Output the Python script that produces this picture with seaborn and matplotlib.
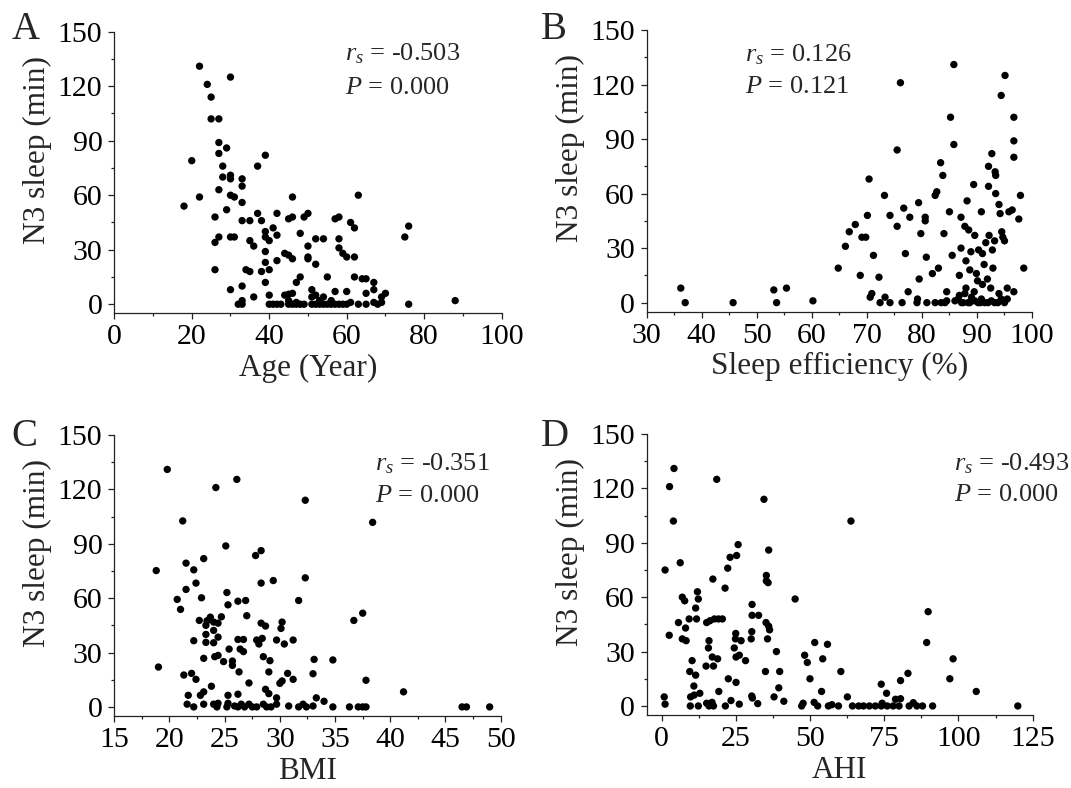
import matplotlib
matplotlib.use("Agg")
import matplotlib.pyplot as plt
import seaborn as sns
import numpy as np
import pandas as pd
from matplotlib.ticker import MultipleLocator

# --- Data ---
age = [22, 30, 24, 25, 25, 27, 27, 29, 27, 20, 39, 37, 28, 28, 30, 30, 33, 33, 27, 30,
       31, 33, 22, 18, 46, 63, 29, 26, 37, 42, 33, 35, 38, 45, 46, 49, 50, 57, 58, 61,
       62, 76, 75, 41, 39, 42, 48, 30, 31, 27, 26, 39, 40, 35, 36, 52, 54, 58, 39, 50,
       58, 59, 60, 62, 44, 45, 46, 50, 50, 39, 42, 52, 26, 34, 35, 38, 40, 55, 48, 47,
       62, 64, 65, 67, 67, 30, 33, 39, 36, 40, 51, 57, 60, 65, 70, 69, 88, 76,
       32, 33, 33, 40, 41, 42, 43, 44, 45, 46, 47, 48, 49, 51, 52, 53, 54, 55, 56, 57,
       58, 59, 60, 61, 63, 65, 67, 68, 69, 45, 46, 45, 47, 51, 52, 54, 53, 56]
age_n3 = [131, 125, 121, 114, 102, 102, 89, 86, 83, 79, 82, 76, 76, 70, 71, 69, 69, 65, 63, 60,
          59, 56, 59, 54, 59, 60, 52, 48, 50, 50, 46, 46, 46, 47, 48, 48, 50, 47, 48, 45,
          42, 43, 37, 42, 40, 38, 39, 37, 37, 37, 34, 37, 35, 35, 32, 36, 36, 36, 29, 32,
          31, 28, 26, 26, 28, 27, 25, 26, 25, 23, 24, 22, 19, 19, 18, 18, 19, 15, 15, 12,
          15, 14, 14, 12, 8, 8, 10, 12, 4, 5, 8, 7, 7, 6, 6, 4, 2, 0,
          0, 0, 2, 0, 0, 0, 0, 5, 0, 0, 0, 0, 0, 0, 0, 0, 0, 0, 0, 0,
          0, 0, 0, 1, 0, 0, 1, 0, 1, 5.5, 6, 2, 1, 4, 5, 4, 2, 2]

eff = [36.2, 37, 45.7, 53.1, 53.6, 55.4, 60.2, 64.8, 66.1, 66.8, 67.9, 68.8, 69.1, 69.8, 70.1,
       70.4, 71.2, 70.9, 70.6, 72.2, 72.4, 73.2, 73.3, 74.2, 74.2, 75.5, 75.5, 76.1, 76.4, 76.7,
       77, 77.5, 77.8, 79.1, 79.2, 79.4, 79.5, 79.8, 80.6, 80.6, 80.8, 80.9, 81.9, 82.4, 82.4,
       82.7, 83, 83.4, 83.8, 84, 84.2, 84.5, 85, 85.2, 85.5, 85.8, 85.8, 86.8, 86.8, 87.1,
       87.1, 87.5, 87.8, 88, 88.2, 88.5, 88.7, 88.7, 88.9, 89.4, 89.6, 89.9, 90.1, 90.3, 90.6,
       90.8, 91, 91.3, 91.6, 91.9, 92.1, 92.1, 92.2, 92.7, 92.8, 92.9, 93.2, 93.3, 93.4, 93.4,
       94, 94.2, 94.4, 94.5, 94.7, 95, 95.1, 95.5, 95.8, 96.4, 96.7, 96.7, 96.7, 96.7, 97.6,
       97.9, 98.5, 95.5,
       86.6, 87.2, 87.8, 88.4, 89, 89.6, 90.2, 90.8, 91.4, 92, 92.6, 93.2, 93.8, 94.4, 95,
       88, 89.5, 91, 92.5, 94, 83.5, 84.5, 86]
eff_n3 = [8, 0, 0, 7, 0, 8, 1, 19, 31, 39, 43, 15, 36, 36, 48,
          68, 26, 5, 3, 14, 0, 59, 3, 0, 48, 84, 42, 121, 0, 52,
          27, 6, 47, 0, 2, 55, 13, 38, 47, 45, 25, 0, 16, 0, 59,
          61, 19, 77, 70, 38, 0, 6, 50, 102, 26, 131, 87, 15, 4, 30,
          47, 0, 42, 23, 56, 40, 0, 18, 28, 65, 37, 16, 12, 29, 0,
          50, 27, 21, 33, 13, 64, 75, 37, 82, 29, 19, 34, 72, 70, 60,
          54, 49, 114, 39, 36, 34, 125, 8, 50, 51, 102, 89, 80, 6, 46,
          59, 19, 2,
          2, 0, 5, 0, 3, 1, 0, 2, 0, 0, 1, 0, 0, 2, 0,
          8, 6, 10, 8, 5, 0, 1, 1]

bmi = [19.8, 26.1, 24.2, 32.3, 21.2, 38.4, 25.1, 27.8, 28.3, 18.8, 21.5, 23.1, 22.2, 22.4, 28.3,
       29.4, 32.3, 21.5, 20.7, 21.0, 22.9, 25.2, 25.3, 26.2, 26.9, 31.7, 27.0, 22.7, 23.4, 23.7,
       23.3, 24.0, 24.4, 24.7, 28.3, 28.7, 30.2, 30.1, 36.7, 37.5, 23.3, 24.0, 24.4, 22.2, 23.3,
       24.0, 26.2, 26.7, 27.9, 28.1, 28.4, 29.7, 30.4, 31.2, 25.4, 26.4, 26.7, 23.1, 24.1, 24.4,
       24.9, 25.7, 25.7, 28.5, 29.1, 33.1, 34.8, 19.0, 21.3, 22.0, 22.4, 26.3, 27.2, 29.0, 30.0,
       30.2, 30.7, 31.2, 33.0, 37.8, 41.2, 23.8, 22.8, 23.1, 21.7, 25.3, 26.2, 28.7, 29.0, 29.7,
       33.3, 34.0,
       21.6, 22.2, 23.1, 24.0, 24.3, 24.4, 25.2, 25.3, 25.9, 26.2, 26.5, 26.8, 27.2, 27.5, 27.9,
       28.5, 28.8, 29.2, 29.7, 30.8, 31.7, 32.1, 32.4, 33.0, 34.8, 36.3, 37.1, 37.5, 37.8, 46.5,
       46.9, 49.0]
bmi_n3 = [131, 125.5, 121, 114, 102.6, 101.8, 88.8, 83.5, 86.2, 75.2, 79.3, 81.8, 75.6, 68.3, 68.3,
          69.7, 71.2, 64.8, 59.3, 53.8, 60.2, 63.1, 56.3, 58.3, 58.7, 58.7, 50.3, 47.7, 47.5, 49.5,
          45, 46.8, 46.2, 49.7, 46.2, 44.6, 46.8, 43.3, 47.7, 51.7, 40, 42.2, 38.5, 36.5, 35.6,
          35.4, 37.2, 37.2, 36.9, 34.7, 37.8, 36.9, 34.7, 36.9, 31.9, 31.9, 30.5, 26.8, 27.7, 28.4,
          25, 25.3, 22.9, 27.7, 25.5, 26.2, 25.9, 22, 17.6, 18.5, 15.2, 19.3, 13.2, 19.3, 13,
          14.3, 18.5, 15.2, 18.3, 14.7, 8.3, 11.4, 6.4, 8.3, 6.4, 6.4, 7, 9.7, 7.3, 5,
          5, 3.1,
          1.5, 0, 1.5, 1.5, 0, 2, 0, 2, 0.5, 0, 1.5, 0, 1.5, 0, 0,
          1.5, 0, 0, 1.5, 0.5, 0, 1.5, 0, 0.5, 0, 0, 0, 0, 0, 0,
          0, 0]

ahi = [4.2, 2.7, 4, 18.6, 34.5, 63.8, 1.2, 6.3, 36.1, 25.8, 25.3, 23.1, 22.3, 17.3, 21.4,
       35.3, 35.9, 35.3, 7, 7.8, 12.1, 12.4, 11.5, 45, 30.5, 5.7, 8.1, 9.3, 11.8, 15.2,
       16.3, 17.8, 19.2, 20.5, 30.5, 32.7, 35.2, 36.1, 36.4, 89.8, 2.6, 7, 8.3, 16, 18.9,
       25, 24.9, 26.8, 28.3, 30.2, 24.5, 25.1, 26.2, 30.4, 35.7, 38.7, 89.3, 15.8, 17.1, 17.5,
       15, 10.3, 9.5, 11.5, 35, 39.8, 22.5, 25.1, 39.5, 48.2, 49.1, 51.6, 55.9, 54.3, 50,
       53.9, 60.4, 74, 75.8, 80.5, 83, 97.1, 98.2, 106, 120, 0.9, 1.2, 9.8, 9.7, 12.4,
       10.9, 11, 12.9, 15.2, 16, 17, 17.5, 19.3, 21.5, 23.4, 26.2, 30.4, 30.6, 32.4, 37.9,
       41.2, 47.2, 47.7, 51.4, 52.6, 56.2, 57.4, 59.6, 62.6, 64.3, 66.4, 68, 70, 72, 74,
       76, 78, 80, 74.3, 78.8, 80.5, 83.4, 84.8, 86, 87.9, 91.3]
ahi_n3 = [131, 121, 102, 125, 114, 102, 75, 79, 86, 89, 83, 82, 76, 70, 65,
          72, 68, 69, 60, 58, 63, 59, 54, 59, 56, 46, 43, 48, 48, 46,
          47, 48, 48, 48, 50, 50, 46, 44, 42, 52, 39, 37, 36, 36, 26,
          40, 37, 36, 25, 37, 32, 27, 28, 41, 37, 30, 35, 32, 27, 22,
          22, 25, 19, 17, 19, 19, 15, 13, 10, 28, 24, 35, 34, 26, 15,
          8, 19, 12, 7, 14, 18, 15, 26, 8, 0, 5, 1, 5, 0, 0,
          11, 6, 7, 1.5, 0, 2, 0, 8, 0, 3, 1, 5.5, 4.4, 1.3, 5,
          2.6, 0, 1.5, 2, 0, 0, 0.7, 0, 5, 0, 0, 0, 0, 0, 0,
          0, 0, 0, 1.5, 3.7, 4, 0, 1.8, 0, 0, 0]

panels = [
    ("A", age, age_n3, "Age (Year)", (0, 100), 20, 10, "-0.503", "0.000"),
    ("B", eff, eff_n3, "Sleep efficiency (%)", (30, 100), 10, 5, "0.126", "0.121"),
    ("C", bmi, bmi_n3, "BMI", (15, 50), 5, 2.5, "-0.351", "0.000"),
    ("D", ahi, ahi_n3, "AHI", (-5, 125), 25, 12.5, "-0.493", "0.000"),
]

# axes boxes in figure fraction (left, bottom, width, height)
boxes = [
    [0.1067, 0.6024, 0.3617, 0.3574],
    [0.6038, 0.6044, 0.3598, 0.3575],
    [0.1067, 0.0914, 0.3608, 0.3566],
    [0.6038, 0.0926, 0.3604, 0.3566],
]
# annotation: x, baseline of line 1, baseline of line 2 (axes fraction)
annot_pos = [(0.596, 0.897, 0.779), (0.255, 0.887, 0.775),
             (0.674, 0.875, 0.763), (0.797, 0.872, 0.763)]
letter_xy = [(0.011, 0.9505), (0.505, 0.9505), (0.011, 0.434), (0.505, 0.434)]

# --- Style ---
sns.set_style("ticks")
plt.rcParams.update({
    "font.family": ["Liberation Serif", "DejaVu Serif"],
    "mathtext.fontset": "custom",
    "mathtext.rm": "Liberation Serif",
    "mathtext.it": "Liberation Serif:italic",
    "axes.edgecolor": "#222222",
    "axes.linewidth": 0.9,
    "xtick.color": "#222222",
    "ytick.color": "#222222",
    "xtick.labelcolor": "black",
    "ytick.labelcolor": "black",
})

fig = plt.figure(figsize=(10.71, 7.88), dpi=100)

for i, (letter, xs, ys, xlabel, xlim, xmaj, xmin, rs, p) in enumerate(panels):
    ax = fig.add_axes(boxes[i])
    df = pd.DataFrame({"x": xs, "y": ys})
    sns.scatterplot(data=df, x="x", y="y", ax=ax, color="black", s=28,
                    linewidth=0, edgecolor="none", clip_on=False)
    ax.set_xlim(*xlim)
    ax.set_ylim(-5, 150)
    ax.xaxis.set_major_locator(MultipleLocator(xmaj))
    ax.xaxis.set_minor_locator(MultipleLocator(xmin))
    ax.yaxis.set_major_locator(MultipleLocator(30))
    ax.yaxis.set_minor_locator(MultipleLocator(15))
    if letter == "D":
        ax.set_xticks([0, 25, 50, 75, 100, 125])
    ax.tick_params(which="major", direction="out", length=4.5, width=0.9,
                   labelsize=21.5, pad=4)
    ax.tick_params(which="minor", direction="out", length=2.5, width=0.9)
    ax.tick_params(axis="x", which="major", pad=3.5)
    sns.despine(ax=ax)
    ax.set_xlabel(xlabel, fontsize=22.5, labelpad=2.5)
    ax.set_ylabel("N3 sleep (min)", fontsize=22.5)
    ax.yaxis.set_label_coords(-0.161, 0.58)

    ax_x, yb1, yb2 = annot_pos[i]
    ax.text(ax_x, yb1, r"$r_s$ = " + rs, transform=ax.transAxes,
            fontsize=19, ha="left", va="baseline")
    ax.text(ax_x, yb2, r"$P$ = " + p, transform=ax.transAxes,
            fontsize=19, ha="left", va="baseline")
    fig.text(letter_xy[i][0], letter_xy[i][1], letter, fontsize=28,
             ha="left", va="baseline")

fig.savefig("out.png", dpi=100)
